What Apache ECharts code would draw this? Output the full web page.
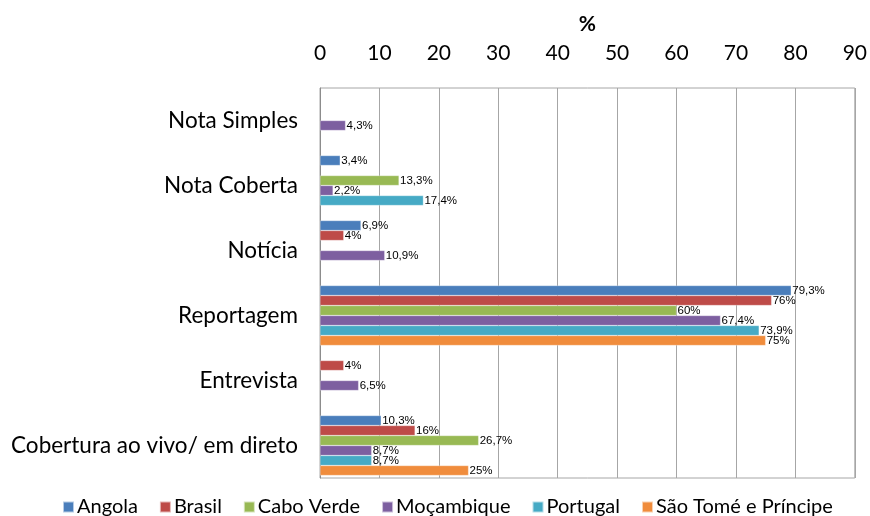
<!DOCTYPE html>
<html>
<head>
<meta charset="utf-8">
<script src="https://cdn.jsdelivr.net/npm/echarts@6/dist/echarts.min.js"></script>
<style>
  html, body { margin: 0; padding: 0; background: #fff; }
  #chart { width: 870px; height: 516px; }
</style>
</head>
<body>
<div id="chart"></div>
<script>
var categories = ["Nota Simples", "Nota Coberta", "Notícia", "Reportagem", "Entrevista", "Cobertura ao vivo/ em direto"];
var angola = [null, 3.4, 6.9, 79.3, null, 10.3];
var brasil = [null, null, 4, 76, 4, 16];
var caboVerde = [null, 13.3, null, 60, null, 26.7];
var mocambique = [4.3, 2.2, 10.9, 67.4, 6.5, 8.7];
var portugal = [null, 17.4, null, 73.9, null, 8.7];
var saoTome = [null, null, null, 75, null, 25];
var seriesNames = ["Angola", "Brasil", "Cabo Verde", "Moçambique", "Portugal", "São Tomé e Príncipe"];
var seriesData = [angola, brasil, caboVerde, mocambique, portugal, saoTome];
var colors = ["#4A7EBB", "#BE4B48", "#98B954", "#7D5FA0", "#46AAC5", "#F08C3C"];

var chart = echarts.init(document.getElementById("chart"));

var series = seriesNames.map(function (name, i) {
  return {
    name: name,
    type: "bar",
    barWidth: 10,
    barGap: "0%",
    data: seriesData[i],
    itemStyle: { color: colors[i], borderColor: "rgba(255,255,255,0.6)", borderWidth: 0.5 },
    label: {
      show: true,
      position: "right",
      distance: 1,
      color: "#000",
      fontFamily: "Liberation Sans",
      fontSize: 11.5,
      formatter: function (p) {
        return String(p.value).replace(".", ",") + "%";
      }
    }
  };
});

chart.setOption({
  color: colors,
  animation: false,
  textStyle: { fontFamily: "Lato" },
  grid: {
    left: 320,
    right: 13,
    top: 88,
    bottom: 38,
    show: true,
    borderColor: "#A6A6A6",
    borderWidth: 1
  },
  legend: {
    data: seriesNames,
    bottom: -6,
    left: 57,
    icon: "rect",
    itemWidth: 11,
    itemHeight: 11,
    itemGap: 21,
    textStyle: { fontFamily: "Lato", fontSize: 20, color: "#000", padding: [0, 0, 0, -2] }
  },
  xAxis: {
    type: "value",
    position: "top",
    min: 0,
    max: 90,
    interval: 10,
    name: "%",
    nameLocation: "middle",
    nameGap: 53,
    nameTextStyle: { fontFamily: "Lato", fontSize: 21, fontWeight: "bold", color: "#000" },
    axisLine: { show: false },
    axisTick: { show: false },
    axisLabel: { fontFamily: "Lato", fontSize: 21, color: "#000", margin: 24 },
    splitLine: { show: true, lineStyle: { color: "#A6A6A6", width: 1 } }
  },
  yAxis: {
    type: "category",
    inverse: true,
    data: categories,
    axisLine: { show: true, lineStyle: { color: "#8C8C8C" } },
    axisTick: { show: false },
    axisLabel: { fontFamily: "Lato", fontSize: 22.5, color: "#000", margin: 22 }
  },
  series: series
});
</script>
</body>
</html>
